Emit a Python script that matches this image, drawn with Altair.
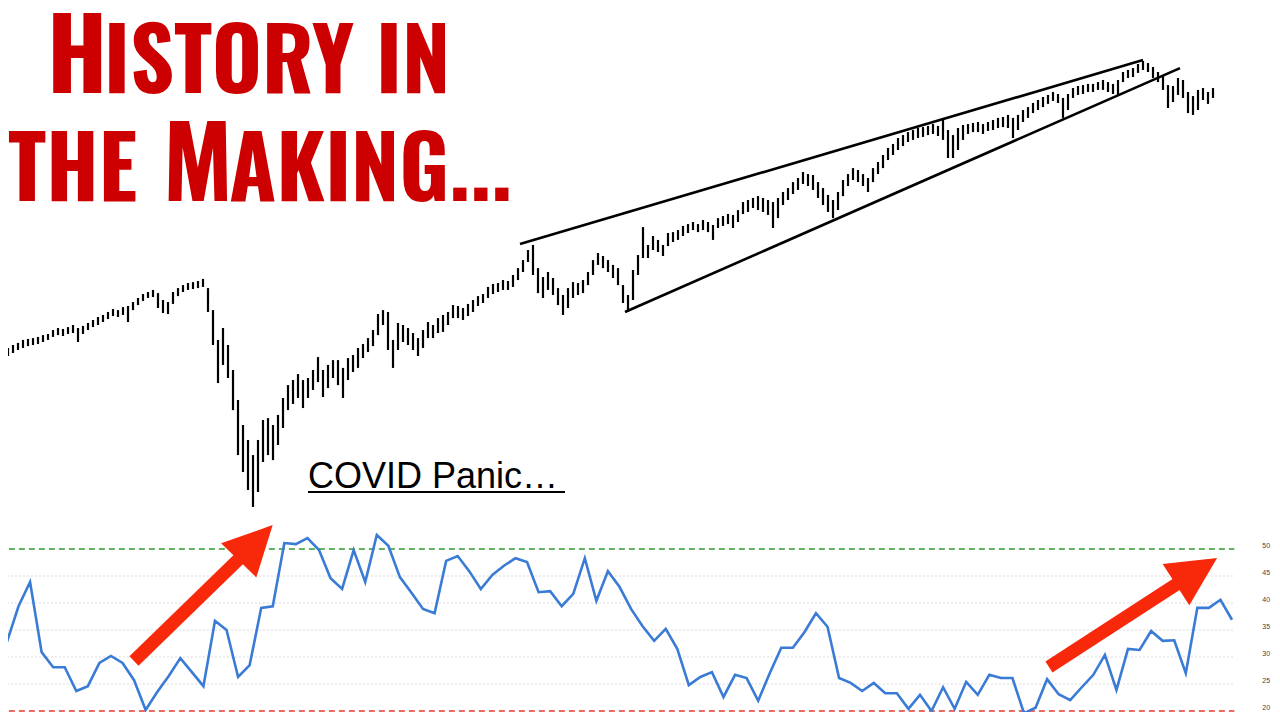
import altair as alt
import pandas as pd

# ---------------- price panel (S&P 500, bars every 2 sessions) ----------------
bar_high = [
    3032, 3048, 3059, 3075, 3080, 3085, 3091, 3101, 3107, 3128,
    3139, 3134, 3144, 3155, 3139, 3150, 3166, 3182, 3198, 3209,
    3225, 3241, 3235, 3251, 3257, 3278, 3300, 3321, 3332, 3343,
    3326, 3289, 3278, 3332, 3353, 3369, 3380, 3385, 3391, 3402,
    3353, 3235, 3075, 3139, 3048, 2914, 2753, 2619, 2539, 2458,
    2539, 2646, 2656, 2619, 2673, 2764, 2833, 2860, 2892, 2860,
    2871, 2914, 2983, 2914, 2941, 2967, 2967, 2925, 2978, 2994,
    3032, 3053, 3085, 3128, 3214, 3235, 3225, 3075, 3166, 3155,
    3139, 3112, 3085, 3128, 3171, 3155, 3192, 3209, 3225, 3262,
    3257, 3246, 3268, 3289, 3310, 3321, 3359, 3375, 3380, 3396,
    3391, 3423, 3460, 3503, 3557, 3584, 3460, 3412, 3439, 3407,
    3353, 3316, 3353, 3385, 3380, 3396, 3439, 3503, 3541, 3525,
    3503, 3477, 3460, 3369, 3316, 3450, 3530, 3680, 3584, 3632,
    3611, 3584, 3648, 3653, 3664, 3686, 3696, 3707, 3696, 3718,
    3707, 3691, 3728, 3739, 3750, 3745, 3771, 3814, 3825, 3836,
    3846, 3836, 3825, 3814, 3836, 3868, 3889, 3921, 3943, 3975,
    3964, 3959, 3921, 3889, 3852, 3825, 3868, 3932, 3964, 3996,
    3986, 3964, 3943, 3996, 4029, 4066, 4104, 4125, 4157, 4173,
    4189, 4200, 4211, 4216, 4222, 4232, 4222, 4254, 4200, 4173,
    4211, 4227, 4232, 4238, 4243, 4232, 4243, 4254, 4265, 4270,
    4281, 4265, 4281, 4307, 4323, 4345, 4361, 4377, 4388, 4404,
    4393, 4372, 4393, 4425, 4436, 4441, 4447, 4447, 4457, 4468,
    4457, 4447, 4468, 4511, 4522, 4532, 4554, 4570, 4559, 4538,
    4511, 4490, 4441, 4436, 4479, 4468, 4404, 4382, 4415, 4425,
    4404, 4425,
]
bar_low = [
    2989, 3005, 3021, 3032, 3042, 3048, 3053, 3064, 3075, 3091,
    3101, 3096, 3107, 3112, 3064, 3107, 3128, 3144, 3155, 3171,
    3187, 3203, 3198, 3209, 3171, 3235, 3262, 3284, 3300, 3305,
    3246, 3219, 3214, 3268, 3310, 3332, 3343, 3348, 3353, 3359,
    3225, 3048, 2844, 2941, 2871, 2699, 2458, 2367, 2271, 2180,
    2260, 2421, 2458, 2431, 2512, 2603, 2699, 2732, 2764, 2710,
    2764, 2807, 2849, 2769, 2817, 2871, 2833, 2764, 2860, 2903,
    2925, 2978, 3010, 3042, 3101, 3155, 3021, 2925, 3021, 3064,
    3048, 3021, 2989, 3032, 3085, 3085, 3112, 3118, 3155, 3192,
    3192, 3182, 3203, 3225, 3257, 3273, 3300, 3321, 3332, 3343,
    3343, 3359, 3396, 3439, 3493, 3423, 3326, 3300, 3343, 3316,
    3262, 3209, 3246, 3300, 3316, 3326, 3369, 3423, 3477, 3460,
    3439, 3407, 3369, 3273, 3225, 3289, 3423, 3514, 3514, 3557,
    3546, 3525, 3578, 3600, 3611, 3632, 3648, 3664, 3653, 3664,
    3653, 3611, 3675, 3686, 3696, 3675, 3707, 3750, 3761, 3782,
    3771, 3761, 3745, 3675, 3728, 3798, 3825, 3857, 3879, 3911,
    3900, 3879, 3836, 3798, 3761, 3728, 3771, 3846, 3900, 3932,
    3921, 3900, 3868, 3921, 3964, 3996, 4039, 4066, 4093, 4114,
    4136, 4147, 4157, 4163, 4173, 4179, 4168, 4147, 4050, 4050,
    4093, 4147, 4179, 4189, 4189, 4179, 4195, 4200, 4211, 4216,
    4211, 4157, 4200, 4243, 4265, 4291, 4307, 4323, 4340, 4356,
    4345, 4265, 4307, 4372, 4388, 4393, 4404, 4404, 4415, 4415,
    4404, 4393, 4388, 4457, 4479, 4484, 4506, 4522, 4511, 4479,
    4457, 4415, 4318, 4350, 4388, 4372, 4291, 4281, 4307, 4361,
    4340, 4372,
]

wedge_start_i = [102.4, 123.4]
wedge_start_p = [3589, 3225]
wedge_end_i = [227.0, 234.4]
wedge_end_p = [4575, 4532]

# title pieces (small-caps emulation): capital letters larger
title_text = ["H", "ISTORY IN", "THE", "M", "AKING..."]
title_i = [7.8, 19.2, 0.0, 31.0, 44.2]
title_p = [4398, 4398, 3820, 3820, 3820]
title_fs = [99, 86, 86, 99, 86]

covid_text = ["COVID Panic…"]
covid_i = [60.0]
covid_p = [2281]
underline_i = [60.0, 111.4]
underline_p = [2260]

ind_values = [
    32.8, 39.4, 43.9, 30.9, 28.1, 28.1, 23.7, 24.6, 28.9, 30.2,
    28.9, 25.7, 20.2, 23.5, 26.5, 29.8, 27.2, 24.6, 36.7, 35.0,
    26.3, 28.5, 39.1, 39.4, 51.1, 50.9, 52.0, 49.8, 44.6, 42.6,
    49.8, 43.9, 52.6, 50.6, 44.8, 41.9, 38.9, 38.1, 47.8, 48.7,
    45.9, 42.6, 45.2, 46.9, 48.3, 47.6, 42.0, 42.2, 39.4, 41.7,
    48.3, 40.4, 45.9, 43.0, 38.9, 35.7, 33.0, 35.2, 31.5, 24.8,
    26.3, 27.2, 22.6, 26.7, 26.1, 21.9, 27.0, 31.7, 31.7, 34.6,
    38.1, 35.6, 26.1, 25.2, 23.7, 25.2, 23.3, 23.3, 20.4, 23.0,
    20.0, 24.4, 20.4, 25.4, 23.0, 26.7, 26.1, 26.1, 19.6, 20.6,
    25.9, 23.1, 22.0, 24.4, 26.7, 30.4, 23.9, 31.5, 31.3, 34.8,
    33.0, 33.1, 27.0, 39.1, 39.1, 40.6, 36.9,
]
grid_levels = [25, 30, 35, 40, 45]
upper_level = 50
lower_level = 20
label_levels = [50, 45, 40, 35, 30, 25, 20]

arrow_tail_k = [10.99, 90.16]
arrow_tail_v = [29.26, 28.15]
arrow_head_k = [21.52, 102.93]
arrow_head_v = [51.16, 45.88]
arrow_angle = [44, 57]

W, H = 1264, 704
RED = "#cc0000"
ARROW = "#f8290b"

px = alt.Scale(domain=[0, 252.8], nice=False, zero=False)
py = alt.Scale(domain=[1081, 4854], nice=False, zero=False)
kx = alt.Scale(domain=[0.09, 109.46], nice=False, zero=False)
vy = alt.Scale(domain=[19.815, 150.19], nice=False, zero=False)

bars_df = pd.DataFrame({"i": list(range(len(bar_high))), "high": bar_high, "low": bar_low})
bars = alt.Chart(bars_df).mark_rule(color="black", strokeWidth=2.2).encode(
    x=alt.X("i:Q", scale=px, axis=None),
    y=alt.Y("high:Q", scale=py, axis=None),
    y2="low:Q",
)

wedge_df = pd.DataFrame({"i1": wedge_start_i, "p1": wedge_start_p, "i2": wedge_end_i, "p2": wedge_end_p})
wedge = alt.Chart(wedge_df).mark_rule(color="black", strokeWidth=2.6).encode(
    x=alt.X("i1:Q", scale=px, axis=None),
    y=alt.Y("p1:Q", scale=py, axis=None),
    x2="i2:Q",
    y2="p2:Q",
)

title_df = pd.DataFrame({"t": title_text, "i": title_i, "p": title_p, "fs": title_fs})
title = alt.Chart(title_df).mark_text(
    align="left", baseline="alphabetic",
    font="Oswald, 'Roboto Condensed', sans-serif",
    fontWeight="bold", color=RED,
).encode(
    x=alt.X("i:Q", scale=px, axis=None),
    y=alt.Y("p:Q", scale=py, axis=None),
    text="t:N",
    size=alt.Size("fs:Q", scale=None, legend=None),
)

covid_df = pd.DataFrame({"t": covid_text, "i": covid_i, "p": covid_p})
covid = alt.Chart(covid_df).mark_text(
    align="left", baseline="alphabetic", font="Liberation Sans", fontSize=36, color="black",
).encode(
    x=alt.X("i:Q", scale=px, axis=None),
    y=alt.Y("p:Q", scale=py, axis=None),
    text="t:N",
)
ul_df = pd.DataFrame({"i1": [underline_i[0]], "i2": [underline_i[1]], "p": underline_p})
underline = alt.Chart(ul_df).mark_rule(color="black", strokeWidth=2).encode(
    x=alt.X("i1:Q", scale=px, axis=None),
    x2="i2:Q",
    y=alt.Y("p:Q", scale=py, axis=None),
)

price_group = alt.layer(bars, wedge, title, covid, underline)

k_left, k_right = -0.7, 106.2
grid_df = pd.DataFrame({"v": grid_levels, "k1": k_left, "k2": k_right})
grid = alt.Chart(grid_df).mark_rule(color="#d9d9d9", strokeWidth=1, strokeDash=[2, 2]).encode(
    x=alt.X("k1:Q", scale=kx, axis=None), x2="k2:Q",
    y=alt.Y("v:Q", scale=vy, axis=None),
)
up_df = pd.DataFrame({"v": [upper_level], "k1": [k_left], "k2": [k_right]})
up_line = alt.Chart(up_df).mark_rule(color="#2f9a2f", strokeWidth=1.3, strokeDash=[6, 4]).encode(
    x=alt.X("k1:Q", scale=kx, axis=None), x2="k2:Q",
    y=alt.Y("v:Q", scale=vy, axis=None),
)
lo_df = pd.DataFrame({"v": [lower_level], "k1": [k_left], "k2": [k_right]})
lo_line = alt.Chart(lo_df).mark_rule(color="#e53a2e", strokeWidth=1.3, strokeDash=[6, 4]).encode(
    x=alt.X("k1:Q", scale=kx, axis=None), x2="k2:Q",
    y=alt.Y("v:Q", scale=vy, axis=None),
)
ind_df = pd.DataFrame({"k": list(range(len(ind_values))), "v": ind_values})
ind_line = alt.Chart(ind_df).mark_line(color="#3a7bd5", strokeWidth=2.6).encode(
    x=alt.X("k:Q", scale=kx, axis=None),
    y=alt.Y("v:Q", scale=vy, axis=None),
)
lab_df = pd.DataFrame({"v": label_levels, "k": 109.3, "t": [str(x) for x in label_levels]})
labels = alt.Chart(lab_df).mark_text(align="right", baseline="bottom", fontSize=7, color="#444",
                                      font="Liberation Sans").encode(
    x=alt.X("k:Q", scale=kx, axis=None),
    y=alt.Y("v:Q", scale=vy, axis=None),
    text="t:N",
)
shaft_df = pd.DataFrame({"k1": arrow_tail_k, "v1": arrow_tail_v, "k2": arrow_head_k, "v2": arrow_head_v})
shafts = alt.Chart(shaft_df).mark_rule(color=ARROW, strokeWidth=13).encode(
    x=alt.X("k1:Q", scale=kx, axis=None), x2="k2:Q",
    y=alt.Y("v1:Q", scale=vy, axis=None), y2="v2:Q",
)
head_df = pd.DataFrame({"k": arrow_head_k, "v": arrow_head_v, "a": arrow_angle})
heads = alt.Chart(head_df).mark_point(
    shape="M0,-1L1,1L-1,1Z", filled=True, size=2400, color=ARROW, opacity=1, strokeWidth=0,
).encode(
    x=alt.X("k:Q", scale=kx, axis=None),
    y=alt.Y("v:Q", scale=vy, axis=None),
    angle=alt.Angle("a:Q", scale=None),
)

ind_group = alt.layer(grid, up_line, lo_line, ind_line, labels, shafts, heads)

chart = (
    alt.layer(price_group, ind_group)
    .resolve_scale(x="independent", y="independent")
    .properties(width=W, height=H, padding=0, autosize=alt.AutoSizeParams(type="none"),
                background="white")
    .configure_view(strokeWidth=0)
)

chart.save("out.html", embed_options={"renderer": "svg", "actions": False})
